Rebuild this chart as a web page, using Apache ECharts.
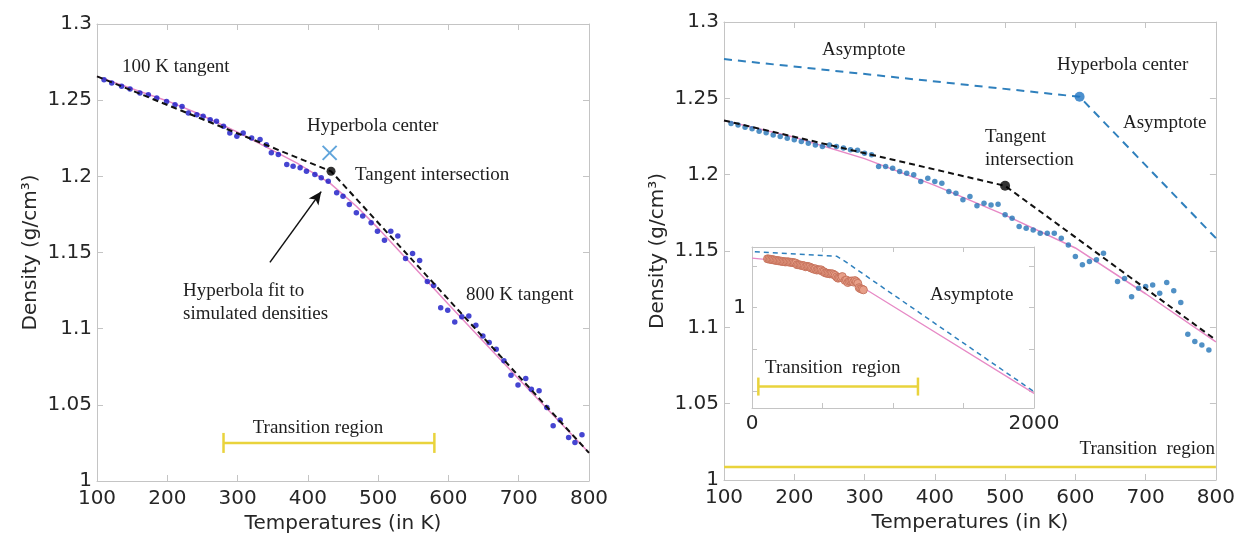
<!DOCTYPE html>
<html>
<head>
<meta charset="utf-8">
<script src="https://cdn.jsdelivr.net/npm/echarts@6/dist/echarts.min.js"></script>
<style>
  html, body { margin: 0; padding: 0; background: #fff; }
  #chart { width: 1238px; height: 539px; }
</style>
</head>
<body>
<div id="chart"></div>
<script>
// ---- tick labels ----
var tempTicks = [100, 200, 300, 400, 500, 600, 700, 800];
var densityTicks = [1, 1.05, 1.1, 1.15, 1.2, 1.25, 1.3];
var insetTempTicks = [0, 500, 1000, 1500, 2000];
var insetTempLabels = [0, 2000];
var insetDensityTicks = [0.6, 0.8, 1, 1.2];
var insetDensityLabels = [1];
var insetDensityRange = [0.52, 1.29];

// ---- left panel ----
var leftTemps = [110,121,135,147,161,173,185,199,211,221,230,242,251,261,270,280,289,299,308,320,
  332,341,348,358,370,379,389,398,410,419,429,441,450,459,469,478,490,499,509,518,
  528,539,549,559,570,579,589,599,609,619,629,639,649,658,668,679,689,699,710,718,
  729,740,749,759,771,780,790];
var leftDensity = [1.2634,1.2613,1.2591,1.2573,1.2547,1.2536,1.2514,1.2492,1.2470,1.2459,
  1.2416,1.2405,1.2394,1.2372,1.2361,1.2328,1.2285,1.2263,1.2285,1.2252,
  1.2241,1.2208,1.2154,1.2143,1.2077,1.2066,1.2056,1.2034,1.2012,1.1990,
  1.1968,1.1892,1.1870,1.1815,1.1761,1.1739,1.1695,1.1640,1.1580,1.1640,
  1.1608,1.1460,1.1494,1.1448,1.1309,1.1284,1.1138,1.1121,1.1044,1.1079,
  1.1083,1.1022,1.0952,1.0909,1.0865,1.0789,1.0695,1.0631,1.0673,1.0603,
  1.0592,1.0483,1.0362,1.0400,1.0286,1.0253,1.0303];
var leftFitTemps = [100, 200, 242, 300, 384, 431, 469, 502, 600, 700, 800];
var leftFitDensity = [1.2656, 1.2495, 1.2416, 1.229, 1.2088, 1.1957, 1.1804, 1.165, 1.116, 1.067, 1.0185];
var leftTangentTemps = [100, 433, 800];
var leftTangentDensity = [1.2656, 1.2033, 1.0185];
var leftIntersection = [433, 1.2033];
var leftCenter = [431, 1.2154];
var leftTransition = [280, 580];
var leftTransitionLevel = 1.025;
var leftArrow = [[346, 1.1435], [419, 1.190]];

// ---- right panel ----
var rightTemps = [110,120,130,140,150,160,170,180,190,200,210,220,230,240,250,260,270,280,290,300,
  310,320,330,340,350,360,370,380,390,400,410,420,430,440,450,460,470,480,490,500,
  510,520,530,540,550,560,570,580,590,600,610,620,630,640,660,670,680,690,700,710,
  720,730,740,750,760,770,780,790];
var rightDensity = [1.2335,1.2325,1.2310,1.2300,1.2285,1.2275,1.2260,1.2250,1.2238,1.2228,
  1.2218,1.2205,1.2195,1.2185,1.2195,1.2185,1.2174,1.2163,1.2160,1.2141,
  1.2130,1.2053,1.2053,1.2042,1.2020,1.2010,1.1999,1.1955,1.1977,1.1955,
  1.1944,1.1890,1.1879,1.1835,1.1857,1.1796,1.1813,1.1802,1.1807,1.1737,
  1.1715,1.1660,1.1649,1.1638,1.1617,1.1617,1.1617,1.1584,1.1540,1.1464,
  1.1410,1.1431,1.1442,1.1486,1.1300,1.1320,1.1201,1.1256,1.1267,1.1278,
  1.1223,1.1293,1.1239,1.1162,1.0955,1.0907,1.0885,1.0852];
var rightFitTemps = [100, 200, 300, 400, 500, 600, 700, 800];
var rightFitDensity = [1.2355, 1.2245, 1.2105, 1.193, 1.1735, 1.152, 1.122, 1.0905];
var rightTangentTemps = [100, 500, 800];
var rightTangentDensity = [1.2355, 1.1927, 1.0917];
var rightAsymptoteTemps = [100, 606, 800];
var rightAsymptoteDensity = [1.2757, 1.251, 1.1584];
var rightCenter = [606, 1.251];
var rightIntersection = [500, 1.1927];
var rightTransition = [100, 800];
var rightTransitionLevel = 1.0085;

// ---- inset ----
var insetFitTemps = [0, 200, 400, 600, 800, 2000];
var insetFitDensity = [1.237, 1.224, 1.193, 1.152, 1.09, 0.59];
var insetAsymptoteTemps = [20, 600, 660, 2000];
var insetAsymptoteDensity = [1.267, 1.246, 1.221, 0.598];
var insetTransition = [45, 1177];
var insetTransitionLevel = 0.6225;

function pairs(xs, ys) {
  return xs.map(function (x, i) { return [x, ys[i]]; });
}

var sans = '"DejaVu Sans", sans-serif';
var serif = '"Liberation Serif", "Times New Roman", serif';
var frameColor = '#c4c4c4';
var textColor = '#262626';
var yellow = '#e9d33c';

function merge(a, b) { var o = {}; for (var k in a) o[k] = a[k]; for (var k2 in b) o[k2] = b[k2]; return o; }

function frameAxis(gridIndex, position, extra) {
  var ax = {
    type: 'value',
    gridIndex: gridIndex,
    position: position,
    axisLine: { show: true, onZero: false, lineStyle: { color: frameColor, width: 1 } },
    axisTick: { show: true, inside: true, length: 6, lineStyle: { color: frameColor } },
    axisLabel: { show: false },
    splitLine: { show: false }
  };
  return merge(ax, extra);
}

function tickLabel(margin) {
  return {
    show: true, fontSize: 20, fontFamily: sans, color: textColor, margin: margin,
    formatter: function (v) { return String(+v.toFixed(2)); }
  };
}

var axisName = { fontSize: 20, fontFamily: sans, color: textColor };
var xTemp = {
  min: tempTicks[0], max: tempTicks[tempTicks.length - 1],
  interval: tempTicks[1] - tempTicks[0]
};
var yDens = {
  min: densityTicks[0], max: densityTicks[densityTicks.length - 1],
  interval: 0.05
};
var insetTick = { show: true, inside: true, length: 5, lineStyle: { color: frameColor } };

var xAxes = [
  frameAxis(0, 'bottom', merge(xTemp, {
    axisLabel: tickLabel(8),
    name: 'Temperatures (in K)', nameLocation: 'middle', nameGap: 33, nameTextStyle: axisName
  })),
  frameAxis(0, 'top', xTemp),
  frameAxis(1, 'bottom', merge(xTemp, {
    axisLabel: tickLabel(8),
    name: 'Temperatures (in K)', nameLocation: 'middle', nameGap: 33, nameTextStyle: axisName
  })),
  frameAxis(1, 'top', xTemp),
  frameAxis(2, 'bottom', {
    min: 0, max: 2000, interval: 500,
    axisLabel: merge(tickLabel(6), { customValues: insetTempLabels }),
    axisTick: merge(insetTick, { customValues: insetTempTicks })
  }),
  frameAxis(2, 'top', {
    min: 0, max: 2000, interval: 500,
    axisTick: merge(insetTick, { customValues: insetTempTicks })
  })
];

var yAxes = [
  frameAxis(0, 'left', merge(yDens, {
    axisLabel: tickLabel(5),
    name: 'Density (g/cm³)', nameLocation: 'middle', nameGap: 56, nameTextStyle: axisName
  })),
  frameAxis(0, 'right', yDens),
  frameAxis(1, 'left', merge(yDens, {
    axisLabel: tickLabel(5),
    name: 'Density (g/cm³)', nameLocation: 'middle', nameGap: 56, nameTextStyle: axisName
  })),
  frameAxis(1, 'right', yDens),
  frameAxis(2, 'left', {
    min: insetDensityRange[0], max: insetDensityRange[1],
    axisLabel: merge(tickLabel(6), { customValues: insetDensityLabels }),
    axisTick: merge(insetTick, { customValues: insetDensityTicks })
  }),
  frameAxis(2, 'right', {
    min: insetDensityRange[0], max: insetDensityRange[1],
    axisTick: merge(insetTick, { customValues: insetDensityTicks })
  })
];

// panel p draws on x axis 2p and y axis 2p
function lineSeries(panel, data, color, width, type, z) {
  return {
    type: 'line', xAxisIndex: panel * 2, yAxisIndex: panel * 2, data: data,
    showSymbol: false, symbol: 'none', silent: true, z: z || 2,
    lineStyle: { color: color, width: width, type: type || 'solid' }
  };
}

function dots(panel, data, size, itemStyle, z, symbol) {
  var s = {
    type: 'scatter', xAxisIndex: panel * 2, yAxisIndex: panel * 2, data: data,
    symbolSize: size, itemStyle: itemStyle, z: z || 3, silent: true
  };
  if (symbol) s.symbol = symbol;
  return s;
}

function capBar(panel, range, level, capHeight) {
  return {
    type: 'line', xAxisIndex: panel * 2, yAxisIndex: panel * 2,
    data: [[range[0], level], [range[1], level]],
    symbol: 'rect', symbolSize: [2.5, capHeight], showSymbol: true, silent: true, z: 3,
    itemStyle: { color: yellow },
    lineStyle: { color: yellow, width: 2.5 }
  };
}

var leftTangent = lineSeries(0, pairs(leftTangentTemps, leftTangentDensity), '#111', 2, [6, 4], 4);
leftTangent.markLine = {
  silent: true, symbol: ['none', 'arrow'], symbolSize: [9, 13],
  lineStyle: { color: '#111', width: 1.5, type: 'solid' },
  label: { show: false },
  data: [[{ coord: leftArrow[0] }, { coord: leftArrow[1] }]]
};

var series = [
  // left panel
  lineSeries(0, pairs(leftFitTemps, leftFitDensity), '#e78ac6', 1.5, 'solid', 2),
  dots(0, pairs(leftTemps, leftDensity), 5.5, { color: '#1717c6' }),
  leftTangent,
  dots(0, [leftIntersection], 9, { color: '#000' }, 5),
  dots(0, [leftCenter], 14, { color: 'none', borderColor: '#3a8fd2', borderWidth: 2 }, 5,
    'path://M0,0L10,10M10,0L0,10'),
  capBar(0, leftTransition, leftTransitionLevel, 20),

  // right panel
  lineSeries(1, pairs(rightAsymptoteTemps, rightAsymptoteDensity), '#2f80bd', 2, [8, 6], 2),
  lineSeries(1, pairs(rightFitTemps, rightFitDensity), '#e78ac6', 1.5, 'solid', 2),
  dots(1, pairs(rightTemps, rightDensity), 5.5, { color: '#2474b6' }),
  lineSeries(1, pairs(rightTangentTemps, rightTangentDensity), '#111', 2, [6, 4], 4),
  dots(1, [rightIntersection], 10, { color: '#000' }, 5),
  dots(1, [rightCenter], 10, { color: '#1f74c2' }, 5),
  lineSeries(1, [[rightTransition[0], rightTransitionLevel], [rightTransition[1], rightTransitionLevel]], yellow, 2.5),

  // inset
  lineSeries(2, pairs(insetAsymptoteTemps, insetAsymptoteDensity), '#2f80bd', 1.5, [5, 4], 6),
  lineSeries(2, pairs(insetFitTemps, insetFitDensity), '#e78ac6', 1.3, 'solid', 6),
  dots(2, pairs(rightTemps, rightDensity), 8,
    { color: '#e8a08a', borderColor: '#c4705a', borderWidth: 1, opacity: 0.9 }, 7),
  capBar(2, insetTransition, insetTransitionLevel, 18)
];

var notes = [
  ['100 K tangent', 122, 67, 'left'],
  ['Hyperbola center', 307, 126, 'left'],
  ['Tangent intersection', 355, 175, 'left'],
  ['Hyperbola fit to', 183, 291, 'left'],
  ['simulated densities', 183, 314, 'left'],
  ['800 K tangent', 466, 295, 'left'],
  ['Transition region', 318, 428, 'center'],
  ['Asymptote', 822, 50, 'left'],
  ['Hyperbola center', 1057, 65, 'left'],
  ['Asymptote', 1123, 123, 'left'],
  ['Tangent', 985, 137, 'left'],
  ['intersection', 985, 160, 'left'],
  ['Transition  region', 1215, 449, 'right'],
  ['Asymptote', 930, 295, 'left'],
  ['Transition  region', 765, 368, 'left']
];

var graphic = notes.map(function (n) {
  return {
    type: 'text', z: 100, silent: true,
    style: {
      text: n[0], x: n[1], y: n[2], align: n[3], verticalAlign: 'middle',
      font: '19px ' + serif, fill: '#1e1e1e'
    }
  };
});

var chart = echarts.init(document.getElementById('chart'), null, { renderer: 'canvas' });
chart.setOption({
  animation: false,
  backgroundColor: '#fff',
  grid: [
    { left: 97, top: 24, width: 492, height: 458 },
    { left: 724, top: 22, width: 492, height: 458 },
    { left: 752, top: 247, width: 282, height: 161 }
  ],
  xAxis: xAxes,
  yAxis: yAxes,
  series: series,
  graphic: graphic
});
</script>
</body>
</html>
